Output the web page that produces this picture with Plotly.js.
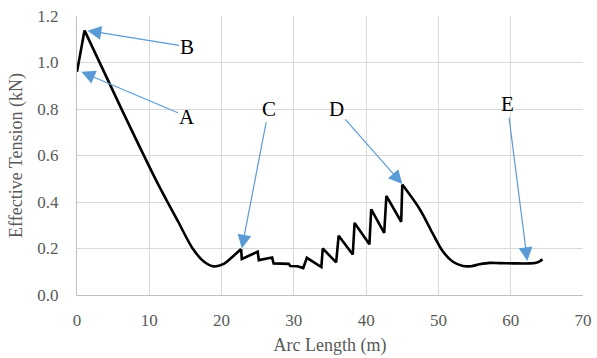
<!DOCTYPE html>
<html>
<head>
<meta charset="utf-8">
<script src="https://cdn.plot.ly/plotly-3.0.1.min.js"></script>
<style>
  html, body { margin: 0; padding: 0; background: #ffffff; }
  #chart { width: 597px; height: 358px; }
</style>
</head>
<body>
<div id="chart"></div>
<script>
// Effective tension along the line (arc length in m, tension in kN), in four stretches:
// the short rise at the top end, the smooth descent, the saw-tooth stretch and the smooth tail.
const dropArc = [0, 1.04];
const dropTension = [0.96, 1.138];

const descentArc = [1.04, 6, 11, 14, 16, 17.5, 18.9, 20.3, 21.6, 22.7];
const descentTension = [1.138, 0.81, 0.49, 0.315, 0.2, 0.145, 0.123, 0.134, 0.167, 0.198];

const sawArc = [22.7, 22.8, 25.0, 25.15, 27.0, 27.2, 29.3, 29.5, 30.5, 31.3, 31.8, 33.8, 34.0, 35.85, 36.2, 38.15, 38.4,
  40.45, 40.7, 42.5, 42.8, 44.85, 45.0];
const sawTension = [0.198, 0.155, 0.186, 0.15, 0.161, 0.136, 0.134, 0.125, 0.124, 0.116, 0.16, 0.12, 0.2, 0.14, 0.255, 0.174, 0.31,
  0.218, 0.368, 0.267, 0.426, 0.315, 0.475];

const tailArc = [45.0, 47.4, 49.2, 50.6, 52.0, 53.4, 54.5, 55.7, 57.1, 58.4, 60.3, 62.6, 63.5, 64.0, 64.4];
const tailTension = [0.475, 0.37, 0.265, 0.188, 0.143, 0.125, 0.124, 0.132, 0.138, 0.137, 0.136, 0.136, 0.139, 0.145, 0.153];

// Callout labels and the points they mark
const calloutText = ['A', 'B', 'C', 'D', 'E'];
const calloutX = [0.6, 1.45, 22.8, 45.0, 62.3];
const calloutY = [0.96, 1.137, 0.2, 0.477, 0.146];
const calloutOffsetX = [106, 100, 27, -66, -20];
const calloutOffsetY = [45, 16, -140, -75, -157];

const xTicks = [0, 10, 20, 30, 40, 50, 60, 70];
const yTicks = [0, 0.2, 0.4, 0.6, 0.8, 1.0, 1.2];

const serif = '"Liberation Serif", "Times New Roman", serif';
const arrowBlue = '#5b9bd5';

const annotations = calloutText.map((t, i) => ({
  x: calloutX[i], y: calloutY[i], xref: 'x', yref: 'y',
  text: t, showarrow: true,
  ax: calloutOffsetX[i], ay: calloutOffsetY[i],
  arrowhead: 2, arrowsize: 2.3, arrowwidth: 1.2, arrowcolor: arrowBlue,
  standoff: 0, startstandoff: 0,
  font: { family: serif, size: 21, color: '#000000' }
}));

const lineStyle = { color: '#000000', width: 2.6 };
function stretch(x, y, shape) {
  return {
    x: x, y: y, type: 'scatter', mode: 'lines',
    line: Object.assign({ shape: shape, smoothing: 0.9 }, lineStyle),
    hoverinfo: 'x+y'
  };
}
const traces = [
  stretch(dropArc, dropTension, 'linear'),
  stretch(descentArc, descentTension, 'spline'),
  stretch(sawArc, sawTension, 'linear'),
  stretch(tailArc, tailTension, 'spline')
];

const layout = {
  width: 597, height: 358,
  margin: { l: 77, r: 14, t: 16, b: 63 },
  paper_bgcolor: '#ffffff', plot_bgcolor: '#ffffff',
  showlegend: false,
  font: { family: serif, color: '#595959', size: 17 },
  xaxis: {
    range: [0, 70], tickvals: xTicks, ticktext: xTicks.map(String),
    showgrid: true, gridcolor: '#d9d9d9', gridwidth: 1,
    zeroline: false, showline: true, linecolor: '#bfbfbf', linewidth: 1,
    ticks: '', ticklabelstandoff: 10,
    tickfont: { family: serif, size: 17, color: '#595959' },
    title: { text: 'Arc Length (m)', font: { family: serif, size: 18, color: '#595959' }, standoff: 8 }
  },
  yaxis: {
    range: [0, 1.2], tickvals: yTicks, ticktext: yTicks.map(v => v.toFixed(1)),
    showgrid: true, gridcolor: '#d9d9d9', gridwidth: 1,
    zeroline: false, showline: true, linecolor: '#bfbfbf', linewidth: 1,
    ticks: '', ticklabelstandoff: 14,
    tickfont: { family: serif, size: 17, color: '#595959' },
    title: { text: 'Effective Tension (kN)', font: { family: serif, size: 18, color: '#595959' }, standoff: 10 }
  },
  annotations: annotations
};

Plotly.newPlot('chart', traces, layout, { staticPlot: true, displayModeBar: false });
</script>
</body>
</html>
